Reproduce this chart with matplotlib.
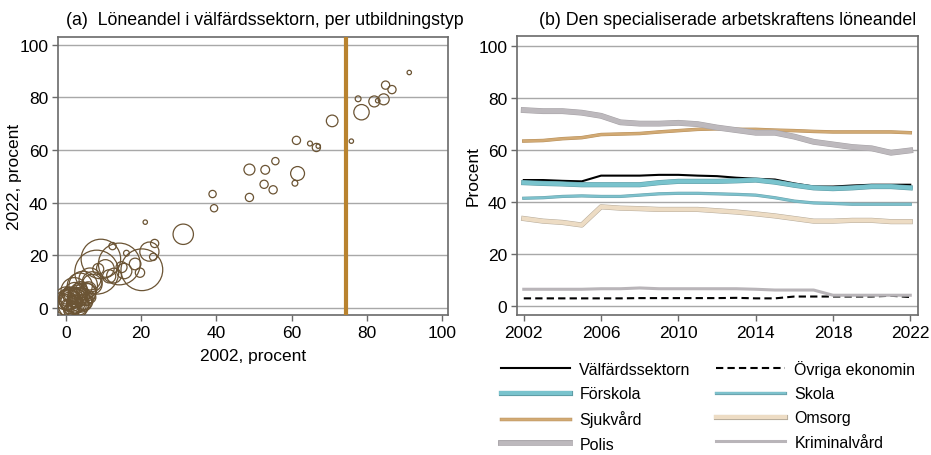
import numpy as np
from matplotlib import pyplot as plt
import matplotlib.patheffects as pe

plt.rcParams['font.family'] = ['Liberation Sans', 'DejaVu Sans']

# (a) Löneandel per utbildningstyp: 2002, 2022 och antal anställda (tusental)
andel_2002 = [91.3, 85.0, 86.7, 77.7, 82.0, 82.9, 84.5, 78.6, 70.8, 75.9,
              61.3, 64.9, 66.6, 67.1, 55.7, 48.8, 53.0, 61.6, 52.7, 60.9,
              55.1, 48.8, 39.0, 39.4, 21.1, 31.2, 23.6, 22.2, 23.2, 20.2,
              19.7, 18.4, 16.1, 12.4, 9.3, 14.2, 8.2, 4.6, 14.8, 12.8,
              8.6, 6.4, 3.7, 10.5, 11.5, 7.0, 15.5,
              0.5, 1.0, 2.0, 3.0, 1.5, 2.5, 4.0, 0.2, 1.2, 3.5,
              5.0, 2.8, 0.8, 4.5, 1.8, 3.2, 6.0, 2.2, 0.0, 5.5,
              1.0, 2.0, 7.0, 3.8, 0.5, 4.2, 6.5, 1.5, 2.6, 0.3,
              1.3, 3.3, 2.4, 0.7, 4.8, 1.9, 3.6, 0.1, 2.9, 5.8]
andel_2022 = [89.5, 84.7, 83.0, 79.5, 78.5, 78.8, 79.3, 74.4, 71.1, 63.4,
              63.7, 62.5, 61.0, 61.5, 55.8, 52.6, 52.5, 51.1, 47.0, 47.4,
              44.9, 42.0, 43.3, 37.9, 32.6, 28.0, 24.5, 21.4, 19.4, 14.5,
              13.4, 16.7, 20.8, 23.5, 18.6, 16.7, 13.6, 8.5, 15.5, 12.3,
              14.8, 11.0, 8.5, 15.0, 12.0, 10.0, 14.0,
              2.0, 3.5, 1.5, 4.0, 0.5, 2.5, 3.0, 1.0, 5.0, 6.0,
              5.5, 0.0, -0.5, 1.5, 3.0, 2.0, 7.0, 6.5, 4.0, 3.0,
              2.0, 4.5, 9.0, 7.5, 6.0, 0.5, 4.0, -1.0, 1.2, 2.8,
              3.2, 1.0, 5.5, 2.5, 2.2, 0.2, 4.8, 3.6, 3.8, 6.0]
anstallda = [4, 14, 14, 7, 25, 4, 25, 49, 28, 4,
             14, 5, 14, 4, 11, 25, 16, 40, 14, 7,
             14, 14, 11, 11, 4, 86, 14, 76, 11, 361,
             18, 28, 7, 11, 324, 361, 400, 169, 25, 45,
             25, 100, 130, 64, 36, 81, 49,
             144, 100, 196, 81, 64, 36, 121, 25, 49, 64,
             100, 25, 16, 36, 16, 9, 49, 144, 36, 25,
             9, 25, 81, 36, 16, 16, 25, 49, 64, 30,
             121, 81, 100, 64, 49, 36, 90, 110, 70, 60]
gransvarde = 74.6

# (b) Den specialiserade arbetskraftens löneandel
ar = list(range(2002, 2023))
valfard = [48.3, 48.3, 48.0, 47.8, 50.0, 50.0, 50.0, 50.3, 50.3, 50.0, 49.8,
           49.2, 48.8, 48.5, 47.0, 45.8, 45.8, 46.2, 46.5, 46.5, 46.5]
ovriga = [2.8, 2.8, 2.8, 2.8, 2.8, 2.8, 2.9, 2.9, 2.9, 2.9, 2.9,
          3.0, 2.8, 2.8, 3.5, 3.5, 3.5, 3.5, 3.5, 3.8, 3.3]
forskola = [47.3, 47.0, 46.8, 46.5, 46.5, 46.5, 46.5, 47.3, 47.8, 47.8, 47.8,
            48.0, 48.3, 47.5, 46.3, 45.3, 45.0, 45.3, 45.8, 45.8, 45.3]
skola = [41.3, 41.5, 42.0, 42.2, 42.0, 42.0, 42.5, 43.0, 43.2, 43.2, 43.0,
         42.8, 42.5, 41.5, 40.2, 39.5, 39.3, 39.0, 39.0, 39.0, 39.0]
sjukvard = [63.3, 63.5, 64.2, 64.6, 65.8, 66.0, 66.2, 66.8, 67.3, 67.8, 68.0,
            67.8, 67.8, 67.5, 67.3, 67.0, 66.8, 66.8, 66.8, 66.8, 66.5]
omsorg = [33.5, 32.5, 32.0, 31.0, 38.0, 37.5, 37.3, 37.0, 37.0, 37.0, 36.5,
          36.0, 35.3, 34.5, 33.5, 32.5, 32.5, 32.8, 32.8, 32.3, 32.3]
polis = [75.2, 74.8, 74.8, 74.2, 73.0, 70.5, 70.0, 70.0, 70.3, 69.8, 68.5,
         67.5, 66.5, 66.5, 65.0, 63.0, 62.0, 61.0, 60.5, 58.8, 59.7]
kriminalvard = [6.3, 6.3, 6.3, 6.3, 6.5, 6.5, 6.8, 6.5, 6.5, 6.5, 6.5,
                6.5, 6.3, 6.0, 6.0, 6.0, 4.0, 4.0, 4.0, 4.0, 4.0]

grid_c = '#a8a8a8'
spine_c = '#6a6a6a'

fig = plt.figure(figsize=(9.31, 4.56), dpi=100)
ax1 = fig.add_axes([58 / 931, 1 - 316 / 456, 390 / 931, 278 / 456])
ax2 = fig.add_axes([517 / 931, 1 - 316 / 456, 401 / 931, 279 / 456])

# --- panel (a)
ax1.scatter(andel_2002, andel_2022, s=np.array(anstallda) * 2.5,
            facecolors='none', edgecolors='#6b5434', linewidths=0.9, zorder=3)
ax1.axvline(gransvarde, color='#b9832f', lw=3, zorder=4)
ax1.set_xlim(-2.1, 101.6)
ax1.set_ylim(-2.7, 103)
ax1.set_xticks(range(0, 101, 20))
ax1.set_yticks(range(0, 101, 20))
ax1.set_xlabel('2002, procent', fontsize=12.5, labelpad=6)
ax1.set_ylabel('2022, procent', fontsize=12.5, labelpad=-2)
ax1.set_title('(a)  Löneandel i välfärdssektorn, per utbildningstyp',
              fontsize=12.8, x=0.53, pad=9)

# --- panel (b)
serier = [
    (valfard, 'Välfärdssektorn', 'black', 1.5, '-', None),
    (forskola, 'Förskola', '#79c3cd', 3.0, '-', '#5d9aa3'),
    (sjukvard, 'Sjukvård', '#d2aa74', 1.8, '-', '#b78f5b'),
    (polis, 'Polis', '#bdb9bd', 3.5, '-', '#a6a2a6'),
    (ovriga, 'Övriga ekonomin', 'black', 1.5, (0, (3.5, 2)), None),
    (skola, 'Skola', '#7dc1cc', 1.6, '-', '#6aa2ac'),
    (omsorg, 'Omsorg', '#eddcc4', 3.0, '-', '#b5aa9a'),
    (kriminalvard, 'Kriminalvård', '#b9b5b9', 2.2, '-', None),
]
for vals, namn, farg, lw, ls, kant in serier:
    effekter = None
    if kant is not None:
        effekter = [pe.Stroke(linewidth=lw + 0.7, foreground=kant), pe.Normal()]
    ax2.plot(ar, vals, color=farg, lw=lw, ls=ls, label=namn,
             path_effects=effekter, zorder=3)

ax2.set_xlim(2001.65, 2022.4)
ax2.set_ylim(-3.6, 103.7)
ax2.set_xticks(range(2002, 2023, 4))
ax2.set_yticks(range(0, 101, 20))
ax2.set_ylabel('Procent', fontsize=12.5, labelpad=-2)
ax2.set_title('(b) Den specialiserade arbetskraftens löneandel',
              fontsize=12.8, x=0.525, pad=9)

for ax in (ax1, ax2):
    ax.grid(axis='y', color=grid_c, lw=1)
    ax.set_axisbelow(True)
    for sp in ax.spines.values():
        sp.set_color(spine_c)
        sp.set_linewidth(1.2)
    ax.tick_params(labelsize=12.5, length=4, width=1, color=spine_c, pad=3)

h, l = ax2.get_legend_handles_labels()
fig.legend(h, l, loc='upper left', bbox_to_anchor=(501 / 931, 1 - 361 / 456),
           ncol=2, frameon=False, fontsize=11.5, handlelength=4.3,
           labelspacing=0.58, columnspacing=1.6, handletextpad=0.6,
           borderpad=0, borderaxespad=0)

fig.savefig('out.png', dpi=100)
